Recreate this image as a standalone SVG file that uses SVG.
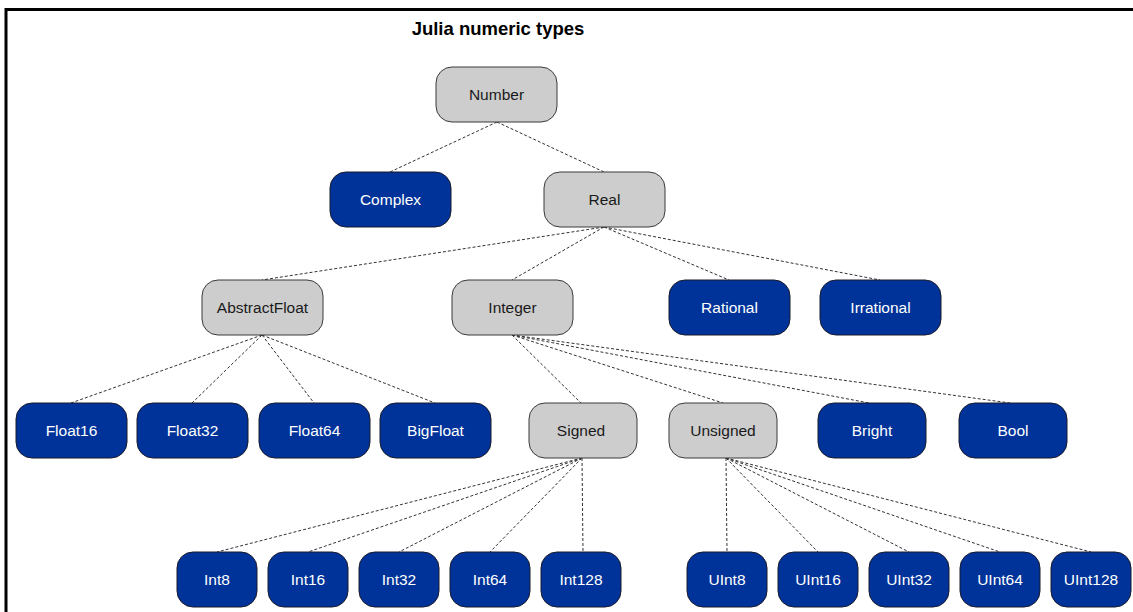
<svg xmlns="http://www.w3.org/2000/svg" width="1133" height="612" viewBox="0 0 1133 612">
<style>
.g rect{fill:#cdcdcd;stroke:#3a3a3a;stroke-width:1}
.b rect{fill:#003399;stroke:#1a1a2a;stroke-width:1}
.g text{fill:#1a1a1a}
.b text{fill:#ffffff}
text{font-family:"Liberation Sans",Arial,sans-serif;font-size:15.5px;text-anchor:middle}
.title{font-size:18.5px;font-weight:bold;fill:#000}
#connectors line{stroke:#333;stroke-width:1;stroke-dasharray:3,2;fill:none}
</style>
<rect x="6" y="9.5" width="1140" height="620" fill="none" stroke="#000" stroke-width="3"/>
<text class="title" x="498" y="35">Julia numeric types</text>
<g id="connectors">
<line x1="497" y1="122" x2="390" y2="172"/>
<line x1="497" y1="122" x2="604" y2="172"/>
<line x1="604" y1="227" x2="262" y2="280"/>
<line x1="604" y1="227" x2="512" y2="280"/>
<line x1="604" y1="227" x2="729" y2="280"/>
<line x1="604" y1="227" x2="880" y2="280"/>
<line x1="262" y1="335" x2="71" y2="403"/>
<line x1="262" y1="335" x2="192" y2="403"/>
<line x1="262" y1="335" x2="314" y2="403"/>
<line x1="262" y1="335" x2="435" y2="403"/>
<line x1="512" y1="335" x2="581" y2="403"/>
<line x1="512" y1="335" x2="723" y2="403"/>
<line x1="512" y1="335" x2="869" y2="403"/>
<line x1="512" y1="335" x2="1010" y2="403"/>
<line x1="582" y1="458" x2="217" y2="552"/>
<line x1="582" y1="458" x2="308" y2="552"/>
<line x1="582" y1="458" x2="399" y2="552"/>
<line x1="582" y1="458" x2="490" y2="552"/>
<line x1="582" y1="458" x2="583" y2="552"/>
<line x1="726" y1="458" x2="727" y2="552"/>
<line x1="726" y1="458" x2="818" y2="552"/>
<line x1="726" y1="458" x2="909" y2="552"/>
<line x1="726" y1="458" x2="1000" y2="552"/>
<line x1="726" y1="458" x2="1091" y2="552"/>
</g>
<g id="Number" class="g"><rect x="436" y="67" width="121" height="55" rx="16"/><text x="496.5" y="100">Number</text></g>
<g id="Complex" class="b"><rect x="330" y="172" width="121" height="55" rx="16"/><text x="390.5" y="205">Complex</text></g>
<g id="Real" class="g"><rect x="544" y="172" width="121" height="55" rx="16"/><text x="604.5" y="205">Real</text></g>
<g id="AbstractFloat" class="g"><rect x="202" y="280" width="121" height="55" rx="16"/><text x="262.5" y="313">AbstractFloat</text></g>
<g id="Integer" class="g"><rect x="452" y="280" width="121" height="55" rx="16"/><text x="512.5" y="313">Integer</text></g>
<g id="Rational" class="b"><rect x="669" y="280" width="121" height="55" rx="16"/><text x="729.5" y="313">Rational</text></g>
<g id="Irrational" class="b"><rect x="820" y="280" width="121" height="55" rx="16"/><text x="880.5" y="313">Irrational</text></g>
<g id="Float16" class="b"><rect x="16" y="403" width="111" height="55" rx="16"/><text x="71.5" y="436">Float16</text></g>
<g id="Float32" class="b"><rect x="137" y="403" width="111" height="55" rx="16"/><text x="192.5" y="436">Float32</text></g>
<g id="Float64" class="b"><rect x="259" y="403" width="111" height="55" rx="16"/><text x="314.5" y="436">Float64</text></g>
<g id="BigFloat" class="b"><rect x="380" y="403" width="111" height="55" rx="16"/><text x="435.5" y="436">BigFloat</text></g>
<g id="Signed" class="g"><rect x="529" y="403" width="108" height="55" rx="16"/><text x="581" y="436">Signed</text></g>
<g id="Unsigned" class="g"><rect x="669" y="403" width="108" height="55" rx="16"/><text x="723" y="436">Unsigned</text></g>
<g id="Bright" class="b"><rect x="818" y="403" width="108" height="55" rx="16"/><text x="872" y="436">Bright</text></g>
<g id="Bool" class="b"><rect x="959" y="403" width="108" height="55" rx="16"/><text x="1013" y="436">Bool</text></g>
<g id="Int8" class="b"><rect x="177" y="552" width="80" height="55" rx="16"/><text x="217" y="585">Int8</text></g>
<g id="Int16" class="b"><rect x="268" y="552" width="80" height="55" rx="16"/><text x="308" y="585">Int16</text></g>
<g id="Int32" class="b"><rect x="359" y="552" width="80" height="55" rx="16"/><text x="399" y="585">Int32</text></g>
<g id="Int64" class="b"><rect x="450" y="552" width="80" height="55" rx="16"/><text x="490" y="585">Int64</text></g>
<g id="Int128" class="b"><rect x="541" y="552" width="80" height="55" rx="16"/><text x="581" y="585">Int128</text></g>
<g id="UInt8" class="b"><rect x="687" y="552" width="80" height="55" rx="16"/><text x="727" y="585">UInt8</text></g>
<g id="UInt16" class="b"><rect x="778" y="552" width="80" height="55" rx="16"/><text x="818" y="585">UInt16</text></g>
<g id="UInt32" class="b"><rect x="869" y="552" width="80" height="55" rx="16"/><text x="909" y="585">UInt32</text></g>
<g id="UInt64" class="b"><rect x="960" y="552" width="80" height="55" rx="16"/><text x="1000" y="585">UInt64</text></g>
<g id="UInt128" class="b"><rect x="1051" y="552" width="80" height="55" rx="16"/><text x="1091" y="585">UInt128</text></g>
</svg>
